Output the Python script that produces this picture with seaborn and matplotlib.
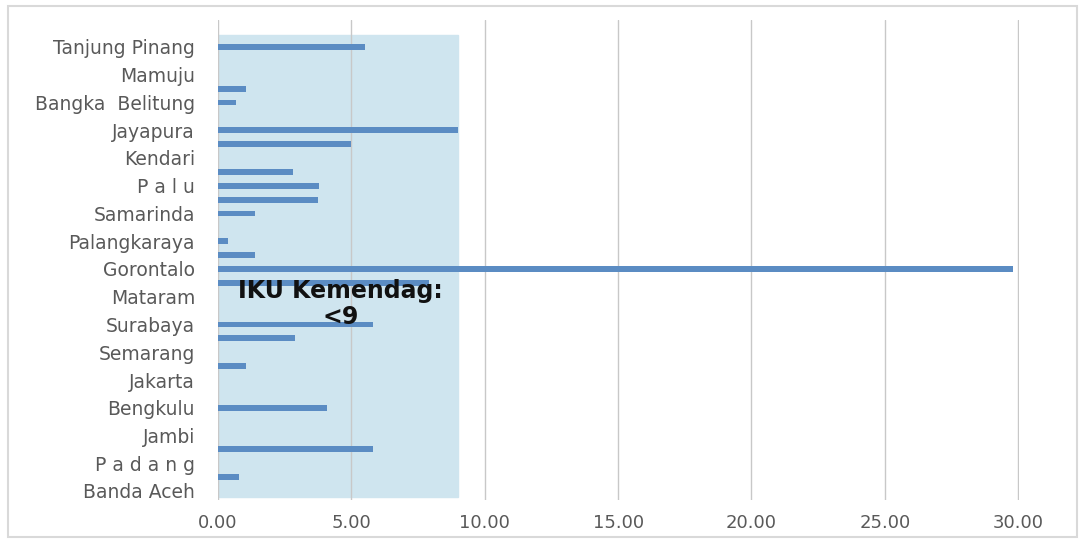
import matplotlib
matplotlib.use("Agg")
import matplotlib.pyplot as plt
import seaborn as sns
import pandas as pd
from matplotlib.patches import Rectangle

# categories listed bottom -> top
cities_bottom_up = [
    "Banda Aceh", "Medan", "P a d a n g", "Pekanbaru", "Jambi", "Palembang",
    "Bengkulu", "Bandar Lampung", "Jakarta", "Bandung", "Semarang", "Yogyakarta",
    "Surabaya", "Denpasar", "Mataram", "Kupang", "Gorontalo", "Pontianak",
    "Palangkaraya", "Banjarmasin", "Samarinda", "Manado", "P a l u", "Makassar",
    "Kendari", "Ambon", "Jayapura", "Ternate", "Bangka  Belitung", "Serang",
    "Mamuju", "Manokwari", "Tanjung Pinang",
]
values_bottom_up = [
    0.00, 0.80, 0.00, 5.80, 0.00, 0.00,
    4.10, 0.00, 0.00, 1.05, 0.00, 2.90,
    5.80, 0.00, 0.00, 7.90, 29.80, 1.40,
    0.37, 0.00, 1.40, 3.75, 3.80, 2.80,
    0.00, 5.00, 9.00, 0.00, 0.67, 1.05,
    0.00, 0.00, 5.50,
]
shown_bottom_up = [i % 2 == 0 for i in range(len(cities_bottom_up))]
target_value = 9.0
annotation = "IKU Kemendag:\n<9"
xticks = [0, 5, 10, 15, 20, 25, 30]

cities = cities_bottom_up[::-1]
values = values_bottom_up[::-1]
shown = shown_bottom_up[::-1]
df = pd.DataFrame({"city": cities, "value": values})

sns.set_theme(style="white")
plt.rcParams["font.family"] = ["DejaVu Sans"]

fig = plt.figure(figsize=(10.83, 5.40), dpi=100)
ax = fig.add_axes([218 / 1083, 1 - 500 / 540, (1019 - 218) / 1083, (500 - 20) / 540])

sns.barplot(data=df, x="value", y="city", order=cities, orient="h",
            color="#5b8cc3", width=0.42, ax=ax, saturation=1, zorder=2,
            linewidth=0)

n = len(cities)
ax.set_ylim(n - 1 + 9 / 13.875, -27 / 13.875)
ax.set_xlim(0, 30.03)

ax.axvspan(0, target_value, ymin=3 / 480, ymax=465 / 480, color="#cfe5ef", zorder=0.2)

ax.set_axisbelow(True)
ax.xaxis.grid(True, color="#c8c8c8", linewidth=1)
ax.yaxis.grid(False)
ax.set_xticks(xticks)
ax.set_xticklabels([f"{v:.2f}" for v in xticks])
ax.set_yticks(range(n))
ax.set_yticklabels([c if s else "" for c, s in zip(cities, shown)])
ax.tick_params(axis="y", length=0, pad=16.5, labelsize=13.5, labelcolor="#595959")
ax.tick_params(axis="x", length=0, pad=10, labelsize=13, labelcolor="#595959")
ax.set_xlabel("")
ax.set_ylabel("")
for s in ax.spines.values():
    s.set_visible(False)

ax.text(4.6, 18.55, annotation, ha="center", va="center", fontsize=17,
        fontweight="bold", color="#111111", linespacing=1.1, zorder=5)

fig.patches.append(Rectangle((8 / 1083, 3 / 540), 1069 / 1083, 531 / 540,
                             transform=fig.transFigure, fill=False,
                             edgecolor="#d9d9d9", linewidth=1.5))

fig.savefig("out.png", dpi=100)
